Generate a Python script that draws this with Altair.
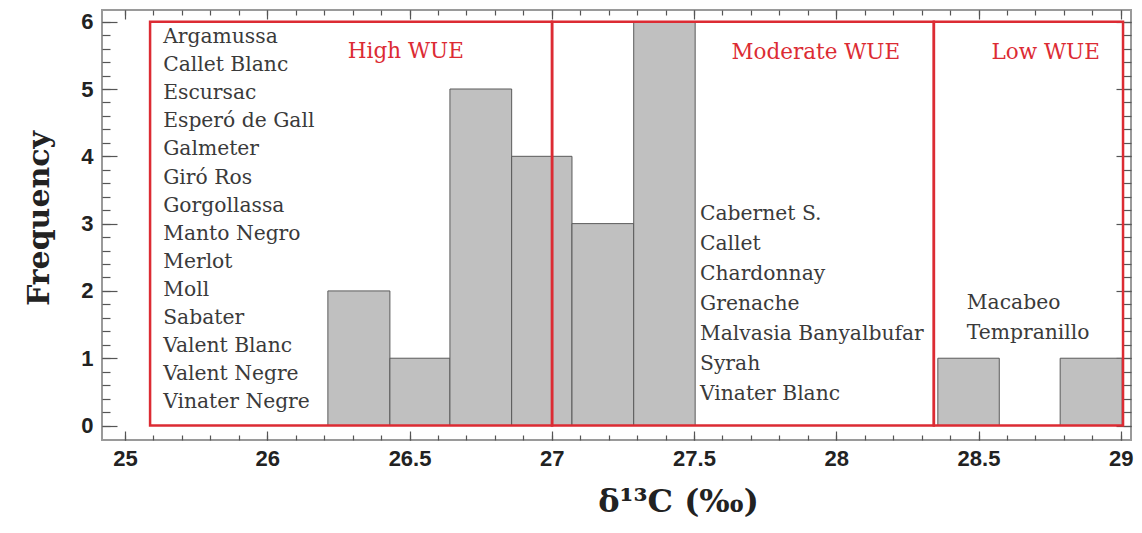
import altair as alt
import pandas as pd

# Histogram bins (δ13C, ‰) and frequencies
bin_start = [26.213, 26.431, 26.642, 26.859, 27.071, 27.288, 28.357, 28.787]
bin_end   = [26.431, 26.642, 26.859, 27.071, 27.288, 27.504, 28.573, 29.005]
counts    = [2, 1, 5, 4, 3, 6, 1, 1]

# WUE classes
region_names = ["High WUE", "Moderate WUE", "Low WUE"]
region_start = [25.588, 27.001, 28.343]
region_end   = [27.001, 28.343, 29.008]
region_label_x = [26.487, 27.928, 28.736]
region_label_y = [5.55, 5.53, 5.53]

high_varieties = ["Argamussa", "Callet Blanc", "Escursac", "Esperó de Gall", "Galmeter",
                  "Giró Ros", "Gorgollassa", "Manto Negro", "Merlot", "Moll", "Sabater",
                  "Valent Blanc", "Valent Negre", "Vinater Negre"]
moderate_varieties = ["Cabernet S.", "Callet", "Chardonnay", "Grenache",
                      "Malvasia Banyalbufar", "Syrah", "Vinater Blanc"]
low_varieties = ["Macabeo", "Tempranillo"]

list_x = [25.634, 27.521, 28.459]
list_y = [5.683, 3.053, 1.731]

# Axis ticks (the leftmost tick is printed as "25" in the original figure)
x_major = [25.5, 26.0, 26.5, 27.0, 27.5, 28.0, 28.5, 29.0]
x_minor = [round(25.5 + 0.1 * i, 1) for i in range(36)]
y_major = [0, 1, 2, 3, 4, 5, 6]
y_minor = [round(0.2 * i, 1) for i in range(31)]

bars = pd.DataFrame({"start": bin_start, "end": bin_end, "count": counts})
regions = pd.DataFrame({"name": region_names, "x0": region_start, "x1": region_end,
                        "lx": region_label_x, "ly": region_label_y})

RED = "#dc2b33"
SERIF = "DejaVu Serif"
xs = alt.Scale(domain=[25.419, 29.036], nice=False, zero=False)
ys = alt.Scale(domain=[-0.215, 6.174], nice=False, zero=False)

tick_col = "#555555"

def xaxis(orient, values, size, labels=False, title=None):
    kw = dict(orient=orient, values=values, tickSize=size, offset=-size, domain=False,
              grid=False, labels=labels, tickColor=tick_col, tickWidth=1.2)
    if labels:
        kw.update(labelExpr="datum.value == 25.5 ? '25' : format(datum.value, '~g')",
                  labelFont="Liberation Sans", labelFontWeight="bold", labelFontSize=22,
                  labelColor="#222222", labelPadding=8, labelOverlap=False, labelBound=False)
    if title:
        kw.update(title=title, titleFont=SERIF, titleFontSize=32,
                  titleFontWeight="bold", titleColor="#222222", titlePadding=17,
                  titleX=576, titleAlign="center")
    else:
        kw.update(title=None)
    return alt.Axis(**kw)

def yaxis(orient, values, size, labels=False, title=None):
    kw = dict(orient=orient, values=values, tickSize=size, offset=-size, domain=False,
              grid=False, labels=labels, tickColor=tick_col, tickWidth=1.2)
    if labels:
        kw.update(labelFont="Liberation Sans", labelFontWeight="bold", labelFontSize=22,
                  labelColor="#222222", labelPadding=9, format="d", labelOverlap=False)
    if title:
        kw.update(title=title, titleFont=SERIF, titleFontSize=30,
                  titleFontWeight="bold", titleColor="#222222", titlePadding=26,
                  titleY=208, titleAlign="center")
    else:
        kw.update(title=None)
    return alt.Axis(**kw)

bar_layer = alt.Chart(bars).mark_rect(fill="#c0c0c0", stroke="#5a5a5a", strokeWidth=1).encode(
    x=alt.X("start:Q", scale=xs, axis=xaxis("bottom", x_major, 9, labels=True, title="δ¹³C (‰)")),
    x2="end:Q",
    y=alt.Y("count:Q", scale=ys, axis=yaxis("left", y_major, 15, labels=True, title="Frequency")),
    y2=alt.datum(0),
)

minor_layer = alt.Chart(bars).mark_point(opacity=0).encode(
    x=alt.X("start:Q", scale=xs, axis=xaxis("bottom", x_minor, 5)),
    y=alt.Y("count:Q", scale=ys, axis=yaxis("left", y_minor, 8)),
)
top_major = alt.Chart(bars).mark_point(opacity=0).encode(
    x=alt.X("start:Q", scale=xs, axis=xaxis("top", x_major, 9)),
    y=alt.Y("count:Q", scale=ys, axis=yaxis("right", y_major, 15)),
)
top_minor = alt.Chart(bars).mark_point(opacity=0).encode(
    x=alt.X("start:Q", scale=xs, axis=xaxis("top", x_minor, 5)),
    y=alt.Y("count:Q", scale=ys, axis=yaxis("right", y_minor, 8)),
)

boxes = alt.Chart(regions).mark_rect(fill=None, stroke=RED, strokeWidth=2.5).encode(
    x=alt.X("x0:Q", scale=xs, axis=None),
    x2="x1:Q",
    y=alt.Y(datum=0, scale=ys, axis=None),
    y2=alt.datum(6),
)

region_titles = alt.Chart(regions).mark_text(
    font=SERIF, fontSize=21.5, color=RED, align="center", baseline="middle"
).encode(
    x=alt.X("lx:Q", scale=xs, axis=None),
    y=alt.Y("ly:Q", scale=ys, axis=None),
    text="name:N",
)

def name_list(names, x, y, lh):
    return alt.Chart(pd.DataFrame({"x": [x], "y": [y]})).mark_text(
        text=names, font=SERIF, fontSize=20.3, color="#3a3a3a",
        align="left", baseline="alphabetic", lineHeight=lh
    ).encode(
        x=alt.X("x:Q", scale=xs, axis=None),
        y=alt.Y("y:Q", scale=ys, axis=None),
    )

lists = (name_list(high_varieties, list_x[0], list_y[0], 28.1)
         + name_list(moderate_varieties, list_x[1], list_y[1], 30)
         + name_list(low_varieties, list_x[2], list_y[2], 30))

chart = alt.layer(
    bar_layer, minor_layer, top_major, top_minor, boxes, region_titles, lists
).resolve_axis(x="independent", y="independent").properties(
    width=1029, height=430,
    autosize=alt.AutoSizeParams(type="none"),
    padding={"left": 94, "top": 2, "right": 3, "bottom": 85},
    background="white",
).configure_view(stroke="#9a9a9a", strokeWidth=2)

chart.save("out.html", embed_options={"renderer": "svg", "actions": False})
